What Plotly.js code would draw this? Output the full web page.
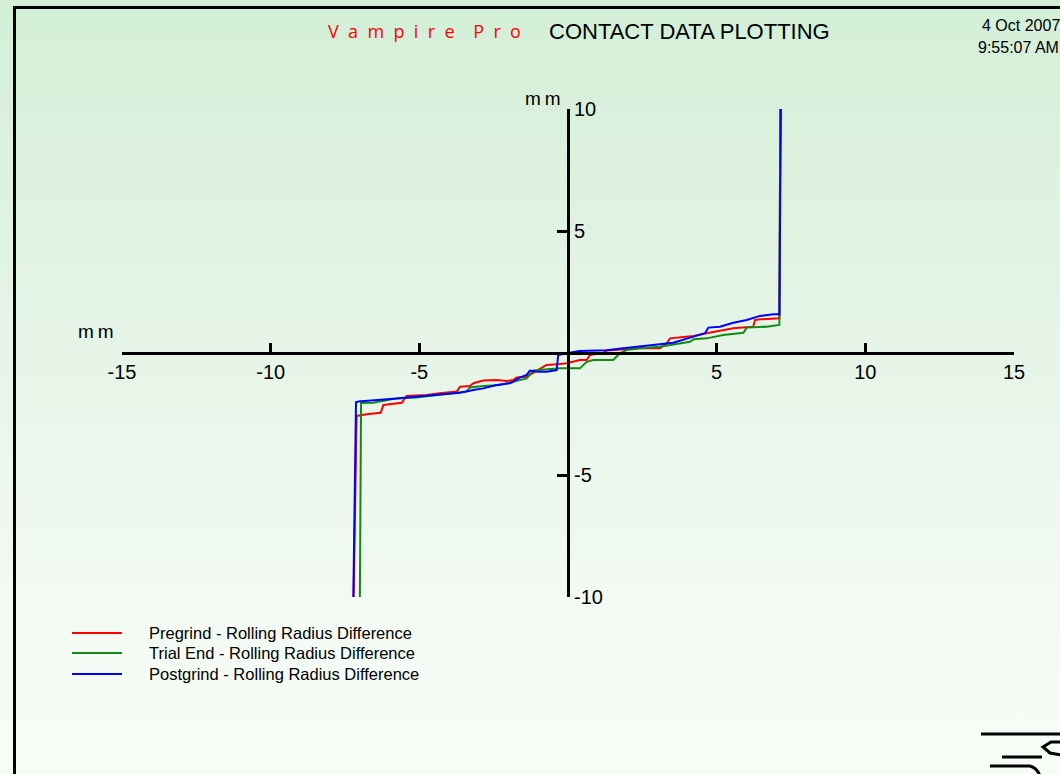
<!DOCTYPE html>
<html>
<head>
<meta charset="utf-8">
<script src="https://cdn.plot.ly/plotly-3.0.1.min.js"></script>
<style>
  html, body { margin: 0; padding: 0; }
  body { width: 1060px; height: 774px; overflow: hidden;
         background: linear-gradient(to bottom, #d3efd6 0%, #e4f4e6 40%, #f3faf3 80%, #f7fcf7 100%); }
  #chart { width: 1060px; height: 774px; }
</style>
</head>
<body>
<div id="chart"></div>
<script>
// ---- Data (mm) ----
const seriesNames = [
  "Pregrind - Rolling Radius Difference",
  "Trial End - Rolling Radius Difference",
  "Postgrind - Rolling Radius Difference"
];
const seriesColors = ["#ff0000", "#138a13", "#0000ff"];

const pregrindX = [-7.21, -7.11, -6.77, -6.30, -6.21, -5.59, -5.43, -4.75, -4.31, -3.74, -3.63, -3.30, -3.18, -2.85, -2.40, -2.06, -1.84, -1.73, -1.39, -0.94, -0.72, -0.27, -0.04, 0.40, 0.63, 0.74, 1.19, 1.30, 1.86, 2.42, 3.09, 3.32, 3.43, 4.22, 4.66, 5.56, 6.23, 6.29, 6.46, 6.91, 7.11, 7.14];
const pregrindY = [-10, -2.58, -2.51, -2.45, -2.13, -2.04, -1.76, -1.72, -1.65, -1.58, -1.38, -1.35, -1.24, -1.13, -1.11, -1.15, -1.11, -1.00, -0.97, -0.67, -0.49, -0.45, -0.42, -0.29, -0.29, -0.08, 0.01, 0.10, 0.15, 0.19, 0.19, 0.40, 0.60, 0.70, 0.81, 1.01, 1.08, 1.35, 1.38, 1.42, 1.42, 10];

const trialEndX = [-7.00, -6.96, -6.55, -5.76, -5.09, -4.31, -3.97, -3.41, -3.30, -2.85, -2.29, -1.84, -1.39, -1.17, -0.72, -0.27, 0.18, 0.40, 0.63, 0.85, 1.52, 1.64, 1.75, 1.97, 2.42, 3.09, 3.54, 4.10, 4.22, 4.66, 5.22, 5.67, 5.90, 6.01, 6.68, 7.11, 7.14];
const trialEndY = [-10, -2.05, -2.04, -1.86, -1.82, -1.72, -1.65, -1.58, -1.41, -1.35, -1.31, -1.17, -1.04, -0.72, -0.67, -0.63, -0.63, -0.63, -0.36, -0.29, -0.29, -0.12, -0.01, 0.12, 0.19, 0.26, 0.36, 0.46, 0.56, 0.60, 0.74, 0.81, 0.83, 1.04, 1.08, 1.15, 10];

const postgrindX = [-7.22, -7.13, -7.05, -6.32, -5.76, -5.43, -4.75, -4.31, -3.74, -3.63, -3.18, -2.85, -2.40, -1.95, -1.84, -1.61, -1.39, -1.28, -1.05, -0.72, -0.38, -0.33, 0.38, 1.30, 1.86, 2.42, 3.21, 3.54, 4.22, 4.61, 4.72, 5.11, 5.56, 6.01, 6.46, 6.91, 7.11, 7.16];
const postgrindY = [-10, -2.02, -1.99, -1.93, -1.86, -1.82, -1.75, -1.72, -1.65, -1.63, -1.52, -1.45, -1.31, -1.24, -1.17, -1.00, -0.90, -0.72, -0.77, -0.77, -0.70, -0.08, 0.08, 0.11, 0.19, 0.26, 0.37, 0.42, 0.67, 0.81, 1.04, 1.08, 1.24, 1.35, 1.52, 1.59, 1.59, 10];

const xTickVals = [-15, -10, -5, 5, 10, 15];
const xTickText = ["-15", "-10", "-5", "5", "10", "15"];
const yTickVals = [-10, -5, 5, 10];
const yTickText = ["-10", "-5", "5", "10"];

// ---- Layout geometry helpers (pixel -> paper) ----
const M = { l: 122, r: 46, t: 109, b: 177 };
const W = 1060, H = 774;
const PW = W - M.l - M.r, PH = H - M.t - M.b;
const px = x => (x - M.l) / PW;
const py = y => (H - M.b - y) / PH;

const FONT = "Liberation Sans, Arial, sans-serif";

const allX = [pregrindX, trialEndX, postgrindX];
const allY = [pregrindY, trialEndY, postgrindY];
const traces = allX.map((xs, i) => ({
  type: "scatter", mode: "lines",
  x: xs, y: allY[i],
  name: seriesNames[i],
  line: { color: seriesColors[i], width: 2 },
  showlegend: false,
  hoverinfo: "skip"
}));

// Manual legend (lines + labels), positioned like the original
const legendRows = [633, 653, 674];
const shapes = [];
const annotations = [];
seriesNames.forEach((n, i) => {
  shapes.push({ type: "line", xref: "paper", yref: "paper",
    x0: px(72), x1: px(122), y0: py(legendRows[i]), y1: py(legendRows[i]),
    line: { color: seriesColors[i], width: 2 } });
  annotations.push({ xref: "paper", yref: "paper", x: px(147), y: py(legendRows[i]),
    xanchor: "left", yanchor: "middle", showarrow: false, text: n,
    font: { family: FONT, size: 16.5, color: "#000" } });
});

// Frame
shapes.push({ type: "rect", xref: "paper", yref: "paper",
  x0: px(14.5), x1: px(1090), y0: py(7.5), y1: py(800),
  line: { color: "#000", width: 3 }, fillcolor: "rgba(0,0,0,0)", layer: "below" });

// Logo (bottom-right)
const logoLines = [
  [981, 734, 1062, 734],
  [1002, 757, 1042, 757],
  [990, 766, 1030, 766]
];
logoLines.forEach(l => shapes.push({ type: "line", xref: "paper", yref: "paper",
  x0: px(l[0]), y0: py(l[1]), x1: px(l[2]), y1: py(l[3]), line: { color: "#000", width: 3 } }));
shapes.push({ type: "path", xref: "paper", yref: "paper",
  path: `M ${px(1062)} ${py(742)} L ${px(1051)} ${py(742)} L ${px(1043)} ${py(747)} L ${px(1050)} ${py(753)} L ${px(1062)} ${py(755)}`,
  line: { color: "#000", width: 3 } });
shapes.push({ type: "path", xref: "paper", yref: "paper",
  path: `M ${px(1030)} ${py(766)} Q ${px(1037)} ${py(768)} ${px(1040)} ${py(776)}`,
  line: { color: "#000", width: 3 } });

const sp = "\u00a0\u00a0";
const spaced = s => s.split("").join(sp);

// Titles and labels
annotations.push(
  { xref: "paper", yref: "paper", x: px(424), y: py(31), xanchor: "center", yanchor: "middle",
    showarrow: false, text: spaced("Vampire") + sp + sp + spaced("Pro"),
    font: { family: "Open Sans, sans-serif", size: 18, color: "#ff0000" } },
  { xref: "paper", yref: "paper", x: px(689), y: py(31), xanchor: "center", yanchor: "middle",
    showarrow: false, text: "CONTACT DATA PLOTTING", font: { family: FONT, size: 22, color: "#000" } },
  { xref: "paper", yref: "paper", x: px(980), y: py(26), xanchor: "left", yanchor: "middle",
    showarrow: false, text: "4 Oct 2007", font: { family: FONT, size: 16, color: "#000" } },
  { xref: "paper", yref: "paper", x: px(976), y: py(47), xanchor: "left", yanchor: "middle",
    showarrow: false, text: "9:55:07 AM", font: { family: FONT, size: 16, color: "#000" } },
  { xref: "paper", yref: "paper", x: px(95), y: py(331), xanchor: "center", yanchor: "middle",
    showarrow: false, text: "m\u2009m", font: { family: FONT, size: 19, color: "#000" } },
  { xref: "paper", yref: "paper", x: px(542), y: py(98), xanchor: "center", yanchor: "middle",
    showarrow: false, text: "m\u2009m", font: { family: FONT, size: 19, color: "#000" } }
);

const layout = {
  width: W, height: H,
  margin: M,
  paper_bgcolor: "rgba(0,0,0,0)",
  plot_bgcolor: "rgba(0,0,0,0)",
  showlegend: false,
  font: { family: FONT, color: "#000" },
  xaxis: {
    range: [-15, 15], anchor: "free", position: 0.5,
    showline: true, linecolor: "#000", linewidth: 3,
    ticks: "inside", ticklen: 9, tickwidth: 3, tickcolor: "#000",
    tickvals: xTickVals, ticktext: xTickText,
    tickfont: { family: FONT, size: 20, color: "#000" },
    showgrid: false, zeroline: false, fixedrange: true
  },
  yaxis: {
    range: [-10, 10], anchor: "free", position: 0.5, side: "right",
    showline: true, linecolor: "#000", linewidth: 3,
    ticks: "inside", ticklen: 10, tickwidth: 3, tickcolor: "#000",
    tickvals: yTickVals, ticktext: yTickText,
    tickfont: { family: FONT, size: 20, color: "#000" },
    showgrid: false, zeroline: false, fixedrange: true
  },
  shapes: shapes,
  annotations: annotations
};

Plotly.newPlot("chart", traces, layout, { displayModeBar: false, staticPlot: true });
</script>
</body>
</html>
